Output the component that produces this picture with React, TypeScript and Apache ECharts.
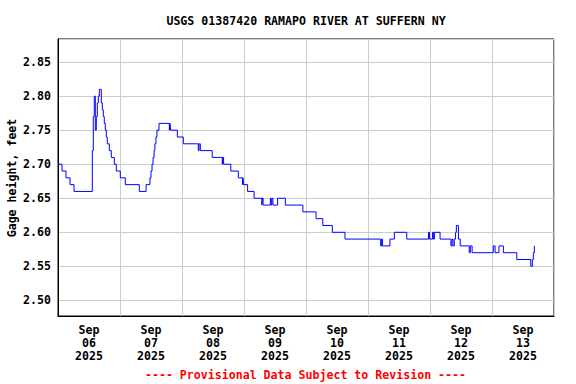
import React, { useEffect, useRef } from "react";
import * as echarts from "echarts";

// Hours since Sep 06 2025 00:00 at which the gage reading changes
const changeHours = [
  0, 1.55, 3.1, 4.65, 6.2, 13.28, 13.66, 14.05, 14.44, 14.83, 15.21, 15.6, 15.99,
  16.76, 17.15, 17.54, 17.92, 18.31, 18.7, 19.08, 19.86, 20.63, 21.79, 22.57,
  24.12, 26.05, 31.47, 34.1, 35.6, 36.0, 36.4, 36.8, 37.2, 37.5, 37.9, 38.3,
  39.1, 43.1, 43.35, 43.6, 46.2, 48.5, 54.3, 54.6, 55.1, 59.7, 63.6, 63.8, 64.1,
  66.9, 69.8, 71.4, 71.6, 71.8, 73.4, 75.9, 78.9, 79.1, 79.4, 82.2, 82.5, 82.8,
  83.2, 85.0, 88.0, 94.8, 99.9, 102.5, 106.2, 111.1, 124.9, 125.3, 125.6, 128.5,
  130.2, 135.0, 143.4, 143.8, 145.0, 145.3, 145.7, 147.9, 152.1, 152.5, 152.9,
  153.4, 153.9, 154.2, 155.0, 155.7, 159.2, 159.6, 160.3, 168.5, 169.2, 170.7,
  172.4, 177.6, 183.0, 183.6, 184.0, 184.4, 184.6,
];
// Gage height, feet
const gageFeet = [
  2.70, 2.69, 2.68, 2.67, 2.66, 2.72, 2.77, 2.80, 2.75, 2.77, 2.79, 2.80, 2.81,
  2.79, 2.78, 2.77, 2.76, 2.75, 2.74, 2.73, 2.72, 2.71, 2.70, 2.69,
  2.68, 2.67, 2.66, 2.67, 2.68, 2.69, 2.70, 2.71, 2.72, 2.73, 2.74, 2.75,
  2.76, 2.75, 2.76, 2.75, 2.74, 2.73, 2.72, 2.73, 2.72, 2.71, 2.70, 2.71, 2.70,
  2.69, 2.68, 2.67, 2.68, 2.67, 2.66, 2.65, 2.64, 2.65, 2.64, 2.65, 2.64, 2.65,
  2.64, 2.65, 2.64, 2.63, 2.62, 2.61, 2.60, 2.59, 2.58, 2.59, 2.58, 2.59,
  2.60, 2.59, 2.60, 2.59, 2.60, 2.59, 2.60, 2.59, 2.58, 2.59, 2.58,
  2.59, 2.60, 2.61, 2.59, 2.58, 2.57, 2.58, 2.57, 2.58, 2.57, 2.58,
  2.57, 2.56, 2.55, 2.56, 2.57, 2.58, 2.58,
];
const dayLabels = [
  "Sep\n06\n2025", "Sep\n07\n2025", "Sep\n08\n2025", "Sep\n09\n2025",
  "Sep\n10\n2025", "Sep\n11\n2025", "Sep\n12\n2025", "Sep\n13\n2025",
];
const yMin = 2.477;
const yMax = 2.884;
const titleText = "USGS 01387420 RAMAPO RIVER AT SUFFERN NY";
const footerText = "---- Provisional Data Subject to Revision ----";
const yName = "Gage height, feet";

const FONT = "'DejaVu Sans Mono', monospace";

export default function App() {
  const ref = useRef<HTMLDivElement>(null);
  useEffect(() => {
    if (!ref.current) return;
    const chart = echarts.init(ref.current, null, { renderer: "svg" });
    const data = changeHours.map((h, i) => [h, gageFeet[i]]);
    chart.setOption({
      animation: false,
      backgroundColor: "#ffffff",
      grid: {
        left: 58,
        right: 22,
        top: 39,
        bottom: 68,
        containLabel: false,
        outerBoundsMode: "none",
        show: true,
        borderColor: "#000",
        borderWidth: 1,
        backgroundColor: "transparent",
      },
      xAxis: [
        {
          type: "value",
          min: 0,
          max: 192,
          interval: 24,
          position: "bottom",
          axisLine: { show: true, lineStyle: { color: "#000", width: 1 } },
          axisTick: { show: false },
          axisLabel: { show: false },
          splitLine: { show: true, lineStyle: { color: "#cccccc", width: 1 } },
        },
        {
          type: "category",
          data: dayLabels,
          boundaryGap: true,
          position: "bottom",
          axisLine: { show: false },
          axisTick: { show: false },
          splitLine: { show: false },
          axisLabel: {
            show: true,
            interval: 0,
            margin: 8,
            color: "#000",
            fontFamily: FONT,
            fontWeight: "bold",
            fontSize: 11.6,
            lineHeight: 12.7,
          },
        },
      ],
      yAxis: {
        type: "value",
        min: yMin,
        max: yMax,
        splitNumber: 8,
        axisLine: { show: true, lineStyle: { color: "#000", width: 1 } },
        axisTick: { show: false },
        axisLabel: {
          showMinLabel: false,
          showMaxLabel: false,
          margin: 7,
          color: "#000",
          fontFamily: FONT,
          fontWeight: "bold",
          fontSize: 11.6,
          formatter: (v: number) => v.toFixed(2),
        },
        splitLine: { show: true, lineStyle: { color: "#cccccc", width: 1 } },
      },
      graphic: [
        {
          type: "text",
          x: 306,
          y: 21,
          style: {
            text: titleText,
            fill: "#000",
            font: `bold 11.6px ${FONT}`,
            textAlign: "center",
            textVerticalAlign: "middle",
          },
        },
        {
          type: "text",
          x: 12,
          y: 178,
          rotation: Math.PI / 2,
          style: {
            text: yName,
            fill: "#000",
            font: `bold 11.6px ${FONT}`,
            textAlign: "center",
            textVerticalAlign: "middle",
          },
        },
        {
          type: "text",
          x: 305.5,
          y: 375,
          style: {
            text: footerText,
            fill: "#ff0000",
            font: `bold 11.6px ${FONT}`,
            textAlign: "center",
            textVerticalAlign: "middle",
          },
        },
      ],
      series: [
        {
          type: "line",
          xAxisIndex: 0,
          data,
          step: "end",
          showSymbol: false,
          symbol: "none",
          lineStyle: { color: "#0000ff", width: 1 },
          silent: true,
        },
      ],
    });
    return () => chart.dispose();
  }, []);
  return (
    <div
      ref={ref}
      style={{ position: "fixed", left: 0, top: 0, width: 576, height: 384, background: "#fff" }}
    />
  );
}
